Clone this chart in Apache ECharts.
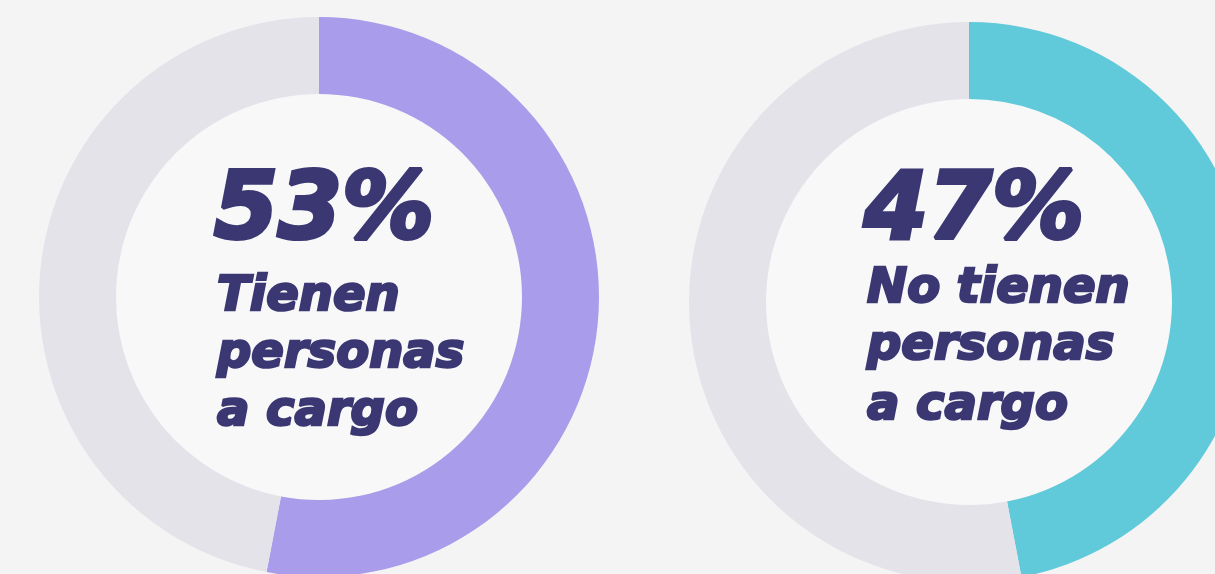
<!DOCTYPE html>
<html>
<head>
    <meta charset="utf-8">
    <title>Personas a cargo</title>
    <script src="https://cdn.jsdelivr.net/npm/echarts@6/dist/echarts.min.js"></script>
    <style>
        html, body { margin: 0; padding: 0; background: #F4F4F4; }
    </style>
</head>
<body>
    <div id="main" style="width: 1215px; height: 574px;"></div>

    <script type="text/javascript">
        // datos
        var percents = [53, 47];
        var labels = [
            ['Tienen', 'personas', 'a cargo'],
            ['No tienen', 'personas', 'a cargo']
        ];
        var colors = ['#A99CEB', '#60C9DA'];
        var restColor = '#E4E3E9';
        var textColor = '#3A3772';

        // posiciones de cada dona
        var centers = [[319, 297], [969, 302]];
        var lineY = [
            [214, 298, 355, 413],
            [214, 290, 347, 407]
        ];

        var chart = echarts.init(document.getElementById('main'));

        var series = [];
        var graphic = [];
        percents.forEach(function (p, i) {
            // fondo claro del centro
            series.push({
                type: 'pie',
                silent: true,
                animation: false,
                center: centers[i],
                radius: [0, 203],
                label: { show: false },
                labelLine: { show: false },
                data: [{ value: 1, itemStyle: { color: '#F8F8F9' } }]
            });
            series.push({
                type: 'pie',
                silent: true,
                animation: false,
                center: centers[i],
                radius: [203, 280],
                startAngle: 90,
                clockwise: true,
                label: { show: false },
                labelLine: { show: false },
                data: [
                    { value: p, itemStyle: { color: colors[i] } },
                    { value: 100 - p, itemStyle: { color: restColor } }
                ]
            });

            var x0 = centers[i][0] - 105;
            graphic.push({
                type: 'text',
                z: 10,
                x: x0,
                y: lineY[i][0],
                style: {
                    text: p + '%',
                    fill: textColor,
                    stroke: textColor,
                    lineWidth: 4,
                    font: 'italic bold 92px "DejaVu Sans"',
                    verticalAlign: 'middle'
                }
            });
            labels[i].forEach(function (t, k) {
                graphic.push({
                    type: 'text',
                    z: 10,
                    x: x0 + 3,
                    y: lineY[i][k + 1],
                    style: {
                        text: t,
                        fill: textColor,
                        stroke: textColor,
                        lineWidth: 2.5,
                        font: 'italic bold 48px "DejaVu Sans"',
                        verticalAlign: 'middle'
                    }
                });
            });
        });

        var option = {
            backgroundColor: '#F4F4F4',
            animation: false,
            series: series,
            graphic: graphic
        };

        chart.setOption(option);
    </script>
</body>
</html>
